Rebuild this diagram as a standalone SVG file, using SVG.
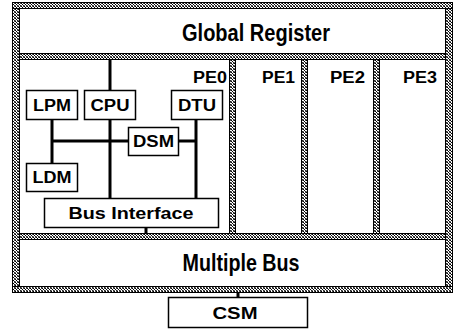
<svg xmlns="http://www.w3.org/2000/svg" width="455" height="329" viewBox="0 0 455 329">
  <defs>
    <pattern id="hatch" width="3" height="3" patternUnits="userSpaceOnUse">
      <rect width="3" height="3" fill="#fff"/>
      <rect x="0" y="0" width="1" height="1" fill="#000"/>
      <rect x="1" y="1" width="1" height="1" fill="#000"/>
      <rect x="2" y="2" width="1" height="1" fill="#222"/>
      <rect x="2" y="0" width="1" height="1" fill="#555"/>
      <rect x="0" y="2" width="1" height="1" fill="#777"/>
    </pattern>
  </defs>
  <style>
    .band { fill: url(#hatch); stroke: #000; stroke-width: 1; }
    .box { fill: #fff; stroke: #000; stroke-width: 1.5; }
    .lbl { font-family: "Liberation Sans", Arial, sans-serif; font-weight: bold; font-size: 16px; fill: #000; text-anchor: middle; }
    .pe { font-family: "Liberation Sans", Arial, sans-serif; font-weight: bold; font-size: 16px; fill: #000; text-anchor: end; }
    .big { font-family: "Liberation Sans", Arial, sans-serif; font-weight: bold; font-size: 24px; fill: #000; text-anchor: middle; }
    .wire { stroke: #000; stroke-width: 3; fill: none; }
  </style>
  <rect width="455" height="329" fill="#fff"/>

  <g id="frame">
    <rect class="band" x="12.5" y="2.5" width="7" height="290"/>
    <rect class="band" x="445.5" y="2.5" width="7" height="290"/>
    <rect class="band" x="12.5" y="2.5" width="440" height="6"/>
    <rect class="band" x="12.5" y="286.5" width="440" height="6"/>
    <rect class="band" x="19.5" y="53.5" width="426" height="6"/>
    <rect class="band" x="19.5" y="233.5" width="426" height="6"/>
    <rect class="band" x="229.5" y="59.5" width="6" height="174"/>
    <rect class="band" x="301.5" y="59.5" width="6" height="174"/>
    <rect class="band" x="373.5" y="59.5" width="6" height="174"/>
  </g>

  <g id="connectors">
    <line class="wire" x1="110" y1="60" x2="110" y2="198"/>
    <line class="wire" x1="52" y1="119" x2="52" y2="163"/>
    <line class="wire" x1="52" y1="141" x2="128" y2="141"/>
    <line class="wire" x1="178" y1="141" x2="196" y2="141"/>
    <line class="wire" x1="196" y1="119" x2="196" y2="198"/>
    <line class="wire" x1="146" y1="227" x2="146" y2="233"/>
    <line class="wire" x1="238" y1="293" x2="238" y2="297"/>
  </g>

  <g id="global-register">
    <text class="big" x="256" y="41" textLength="148" lengthAdjust="spacingAndGlyphs">Global Register</text>
  </g>

  <g id="multiple-bus">
    <text class="big" x="241" y="271" textLength="117" lengthAdjust="spacingAndGlyphs">Multiple Bus</text>
  </g>

  <g id="pe0">
    <text class="pe" x="227" y="83" textLength="34" lengthAdjust="spacingAndGlyphs">PE0</text>
  </g>
  <g id="pe1">
    <text class="pe" x="295" y="83" textLength="33" lengthAdjust="spacingAndGlyphs">PE1</text>
  </g>
  <g id="pe2">
    <text class="pe" x="365" y="83" textLength="35" lengthAdjust="spacingAndGlyphs">PE2</text>
  </g>
  <g id="pe3">
    <text class="pe" x="437" y="83" textLength="34" lengthAdjust="spacingAndGlyphs">PE3</text>
  </g>

  <g id="lpm">
    <rect class="box" x="26.5" y="90.5" width="51" height="29"/>
    <text class="lbl" x="52" y="111" textLength="38" lengthAdjust="spacingAndGlyphs">LPM</text>
  </g>
  <g id="cpu">
    <rect class="box" x="84.5" y="90.5" width="51" height="29"/>
    <text class="lbl" x="110" y="111" textLength="39" lengthAdjust="spacingAndGlyphs">CPU</text>
  </g>
  <g id="dtu">
    <rect class="box" x="171.5" y="90.5" width="51" height="29"/>
    <text class="lbl" x="197" y="111" textLength="38" lengthAdjust="spacingAndGlyphs">DTU</text>
  </g>
  <g id="dsm">
    <rect class="box" x="128.5" y="127.5" width="50" height="28"/>
    <text class="lbl" x="153.5" y="147" textLength="41" lengthAdjust="spacingAndGlyphs">DSM</text>
  </g>
  <g id="ldm">
    <rect class="box" x="26.5" y="163.5" width="51" height="28"/>
    <text class="lbl" x="52" y="183" textLength="39" lengthAdjust="spacingAndGlyphs">LDM</text>
  </g>
  <g id="bus-interface">
    <rect class="box" x="44.5" y="198.5" width="174" height="29"/>
    <text class="lbl" x="131" y="219" textLength="125" lengthAdjust="spacingAndGlyphs">Bus Interface</text>
  </g>
  <g id="csm">
    <rect class="box" x="168.5" y="297.5" width="139" height="30"/>
    <text class="lbl" x="235" y="319" textLength="45" lengthAdjust="spacingAndGlyphs">CSM</text>
  </g>
</svg>
